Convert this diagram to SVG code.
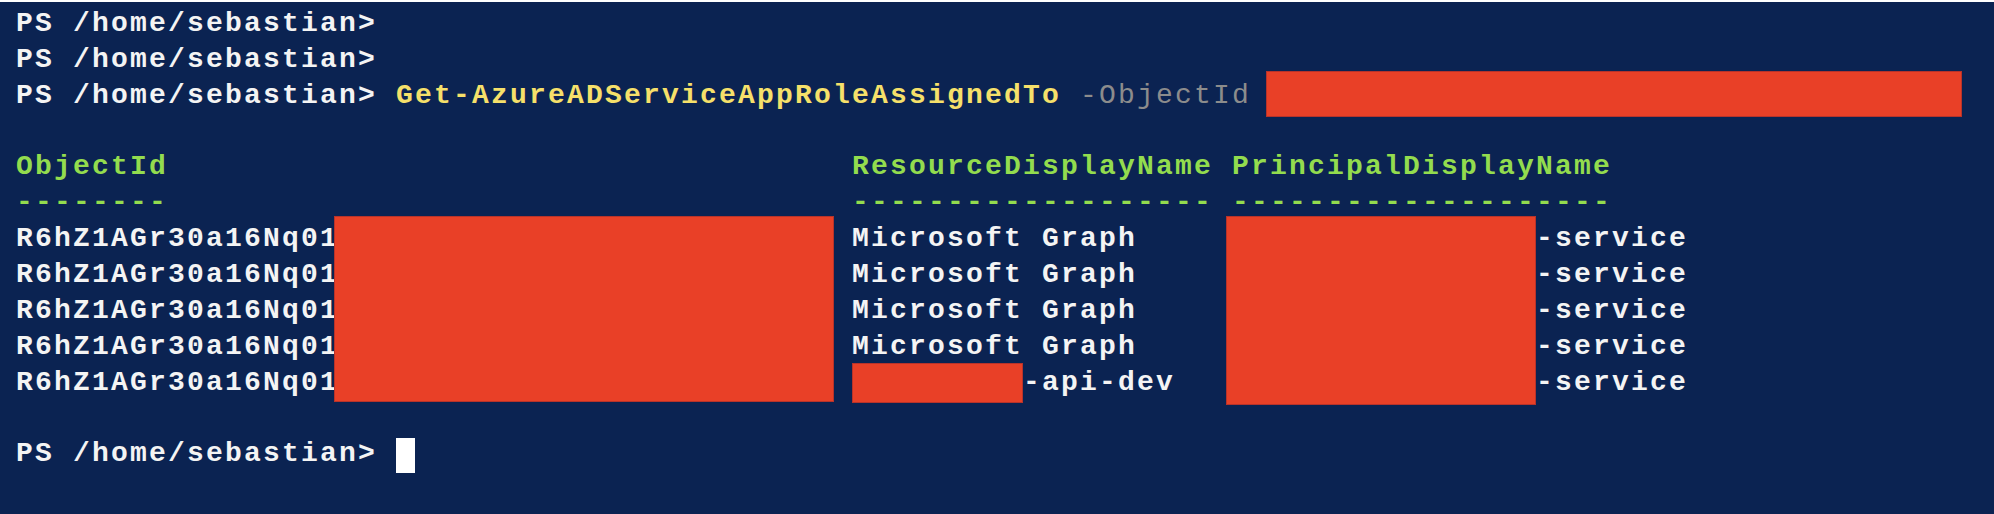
<svg xmlns="http://www.w3.org/2000/svg" width="1994" height="514" viewBox="0 0 1994 514">
<style>
  .t { font-family: "Courier New", "Liberation Mono", "DejaVu Sans Mono", monospace; font-size: 28px; font-weight: bold; letter-spacing: 2.2px; }
  .w { fill: #f4f4f4; }
  .y { fill: #f6e06a; }
  .g { fill: #8c8c8c; font-weight: normal; }
  .h { fill: #93dc4e; }
  .r { fill: #e94027; stroke: #b8332a; stroke-width: 1; }
</style>
<rect x="0" y="0" width="1994" height="514" fill="#0b2352"/>
<rect x="0" y="0" width="1994" height="2" fill="#ffffff"/>

<g id="prompt1"><text class="t w" x="16" y="31">PS /home/sebastian&gt;</text></g>
<g id="prompt2"><text class="t w" x="16" y="66.85">PS /home/sebastian&gt;</text></g>
<g id="command">
  <text class="t w" x="16" y="102.7">PS /home/sebastian&gt;</text>
  <text class="t y" x="396" y="102.7">Get-AzureADServiceAppRoleAssignedTo</text>
  <text class="t g" x="1080" y="102.7">-ObjectId</text>
  <rect class="r" x="1266.5" y="71.5" width="695" height="45"/>
</g>

<g id="headers">
  <text class="t h" x="16" y="174.4">ObjectId</text>
  <text class="t h" x="852" y="174.4">ResourceDisplayName</text>
  <text class="t h" x="1232" y="174.4">PrincipalDisplayName</text>
  <text class="t h" x="16" y="210.2">--------</text>
  <text class="t h" x="852" y="210.2">-------------------</text>
  <text class="t h" x="1232" y="210.2">--------------------</text>
</g>

<g id="col-objectid">
  <text class="t w" x="16" y="246.1">R6hZ1AGr30a16Nq01</text>
  <text class="t w" x="16" y="282">R6hZ1AGr30a16Nq01</text>
  <text class="t w" x="16" y="317.8">R6hZ1AGr30a16Nq01</text>
  <text class="t w" x="16" y="353.6">R6hZ1AGr30a16Nq01</text>
  <text class="t w" x="16" y="389.5">R6hZ1AGr30a16Nq01</text>
  <rect class="r" x="334.5" y="216.5" width="499" height="185"/>
</g>

<g id="col-resource">
  <text class="t w" x="852" y="246.1">Microsoft Graph</text>
  <text class="t w" x="852" y="282">Microsoft Graph</text>
  <text class="t w" x="852" y="317.8">Microsoft Graph</text>
  <text class="t w" x="852" y="353.6">Microsoft Graph</text>
  <rect class="r" x="852.5" y="363.5" width="170" height="39"/>
  <text class="t w" x="1023" y="389.5">-api-dev</text>
</g>

<g id="col-principal">
  <rect class="r" x="1226.5" y="216.5" width="309" height="188"/>
  <text class="t w" x="1536" y="246.1">-service</text>
  <text class="t w" x="1536" y="282">-service</text>
  <text class="t w" x="1536" y="317.8">-service</text>
  <text class="t w" x="1536" y="353.6">-service</text>
  <text class="t w" x="1536" y="389.5">-service</text>
</g>

<g id="prompt-final">
  <text class="t w" x="16" y="461.2">PS /home/sebastian&gt;</text>
  <rect x="396" y="438" width="19" height="35" fill="#ffffff"/>
</g>
</svg>
